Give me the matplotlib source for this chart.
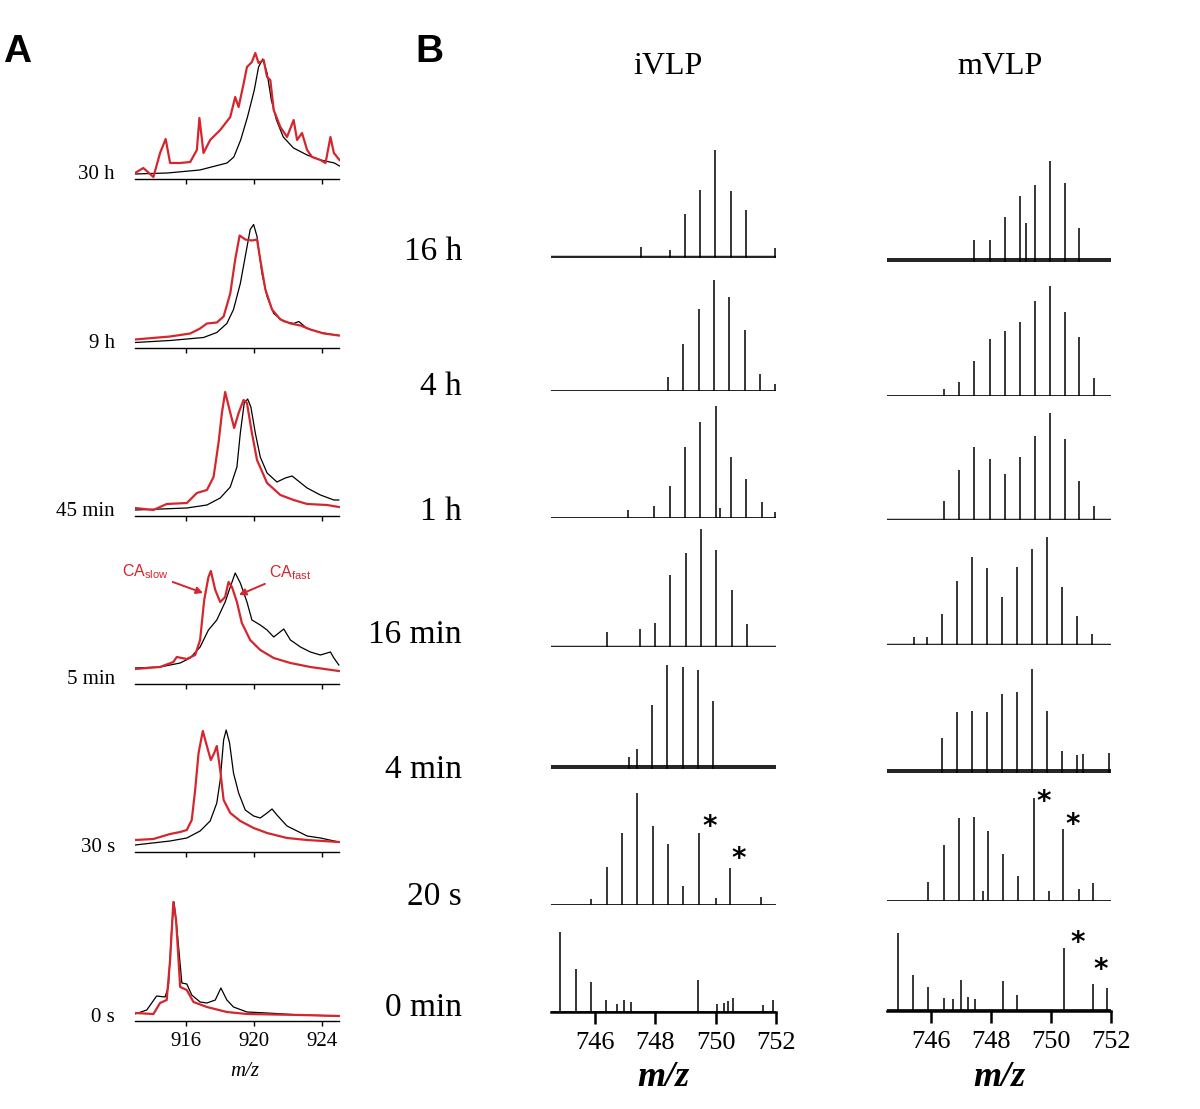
"""
Native MS time course: CA peaks (panel A) and iVLP / mVLP spectra (panel B).
"""

import matplotlib.pyplot as plt

plt.rcParams["font.family"] = ["Liberation Serif", "DejaVu Serif"]
plt.rcParams["mathtext.default"] = "regular"

FIG_W, FIG_H = 1200, 1109
RED = "#d6262d"

# ---------------- panel A data (m/z, intensity a.u.) ----------------
A_LABELS = ["30 h", "9 h", "45 min", "5 min", "30 s", "0 s"]
A_TICKS = [916, 920, 924]

black_30h_mz = [913.0, 914.9, 916.8, 918.4, 918.8, 919.2, 919.6, 920.0, 920.25, 920.5,
                920.75, 921.0, 921.3, 921.7, 922.3, 923.1, 923.9, 924.7, 925.0]
black_30h_int = [5, 6, 9, 16, 22, 39, 62, 89, 112, 120, 106, 79, 59, 42, 31, 24, 19, 16, 13]
red_30h_mz = [913.0, 913.49, 914.08, 914.47, 914.8, 915.06, 915.65, 916.24, 916.63, 916.78,
              917.02, 917.41, 918.0, 918.59, 918.88, 919.08, 919.37, 919.57, 919.86, 920.06,
              920.25, 920.55, 920.75, 920.94, 921.14, 921.53, 921.92, 922.31, 922.51, 922.8,
              923.1, 923.39, 923.88, 924.18, 924.47, 924.67, 924.86, 925.0]
red_30h_int = [6, 11, 2, 26, 40, 16, 16, 17, 29, 61, 26, 39, 49, 62, 82, 72, 95, 112, 117, 126,
               116, 119, 102, 99, 69, 52, 42, 59, 39, 46, 29, 22, 19, 16, 42, 26, 22, 19]

black_9h_mz = [913.0, 915.06, 917.02, 917.8, 918.39, 918.78, 919.18, 919.47, 919.76, 919.96,
               920.16, 920.45, 920.75, 921.14, 921.73, 922.31, 922.61, 923.1, 923.88, 924.96]
black_9h_int = [5, 7, 10, 15, 24, 38, 64, 91, 118, 123, 111, 74, 51, 34, 26, 24, 26, 19, 15, 12]
red_9h_mz = [913.0, 915.06, 916.24, 916.82, 917.22, 917.8, 918.2, 918.59, 918.88, 919.14,
             919.47, 919.86, 920.16, 920.35, 920.65, 921.04, 921.53, 922.12, 922.71, 923.29,
             924.08, 924.96]
red_9h_int = [8, 11, 14, 19, 24, 25, 31, 54, 88, 112, 108, 107, 108, 88, 58, 38, 28, 24, 22,
              18, 14, 12]

black_45m_mz = [913.0, 916.04, 917.22, 918.0, 918.59, 918.98, 919.18, 919.41, 919.61, 919.8,
                920.06, 920.35, 920.75, 921.33, 921.82, 922.22, 922.51, 923.1, 923.88, 924.67,
                924.96]
black_45m_int = [6, 8, 11, 18, 29, 49, 83, 113, 117, 109, 83, 59, 43, 34, 38, 40, 36, 28, 21,
                 16, 16]
red_45m_mz = [913.0, 914.08, 914.86, 916.04, 916.63, 917.22, 917.61, 917.9, 918.1, 918.29,
              918.55, 918.82, 919.08, 919.37, 919.57, 919.86, 920.16, 920.75, 921.53, 922.31,
              923.1, 924.27, 924.96]
red_45m_int = [8, 6, 12, 13, 23, 26, 39, 73, 103, 124, 106, 88, 103, 116, 113, 83, 56, 33, 21,
               16, 12, 11, 9]

black_5m_mz = [913.0, 914.47, 915.65, 916.24, 916.82, 917.31, 917.8, 918.29, 918.59, 918.88,
               919.18, 919.57, 919.86, 920.35, 920.75, 921.14, 921.73, 922.12, 922.71, 923.29,
               923.88, 924.47, 924.67, 924.96]
black_5m_int = [16, 17, 21, 26, 37, 54, 64, 82, 97, 111, 101, 82, 64, 59, 54, 47, 55, 44, 37,
                32, 29, 32, 26, 19]
red_5m_mz = [913.0, 914.47, 915.25, 915.45, 916.04, 916.53, 916.82, 917.06, 917.31, 917.45,
             917.71, 918.0, 918.29, 918.49, 918.69, 918.98, 919.27, 919.76, 920.35, 921.14,
             922.12, 923.29, 924.96]
red_5m_int = [15, 17, 22, 27, 25, 29, 44, 84, 107, 113, 94, 82, 87, 102, 97, 82, 61, 44, 34,
              26, 21, 17, 13]

black_30s_mz = [913.0, 915.06, 916.04, 916.82, 917.41, 917.8, 918.0, 918.2, 918.35, 918.55,
                918.78, 919.08, 919.47, 919.96, 920.35, 920.75, 921.04, 921.33, 921.92, 922.51,
                923.1, 923.88, 924.96]
black_30s_int = [7, 11, 14, 21, 31, 49, 72, 112, 122, 109, 79, 59, 42, 36, 34, 39, 43, 37, 26,
                 21, 16, 14, 10]
red_30s_mz = [913.0, 914.08, 915.06, 915.65, 916.04, 916.33, 916.53, 916.73, 916.98, 917.25,
              917.45, 917.65, 917.8, 918.0, 918.2, 918.59, 919.18, 919.96, 920.75, 921.92,
              923.1, 924.96]
red_30s_int = [12, 13, 18, 20, 22, 32, 62, 99, 121, 104, 92, 99, 106, 82, 52, 39, 31, 24, 19,
               14, 12, 10]

black_0s_mz = [913.0, 913.69, 914.27, 914.76, 914.96, 915.16, 915.29, 915.45, 915.75, 916.04,
               916.33, 916.82, 917.22, 917.71, 918.04, 918.39, 918.78, 919.57, 920.75, 922.71,
               925.0]
black_0s_int = [7, 11, 25, 24, 34, 94, 119, 94, 38, 37, 26, 19, 18, 21, 33, 21, 14, 9, 8, 6, 5]
red_0s_mz = [913.0, 914.08, 914.47, 914.86, 915.06, 915.25, 915.41, 915.65, 916.04, 916.43,
             917.22, 918.39, 919.57, 922.71, 925.0]
red_0s_int = [8, 7, 18, 21, 61, 119, 101, 34, 31, 19, 14, 9, 7, 6, 5]

# ---------------- panel B data (peak m/z, peak height a.u.) ----------------
B_LABELS = ["16 h", "4 h", "1 h", "16 min", "4 min", "20 s", "0 min"]
B_TICKS = [746, 748, 750, 752]

ivlp_16h_mz = [747.52, 748.49, 748.99, 749.5, 749.99, 750.5, 751.0, 751.98]
ivlp_16h_int = [11, 8, 44, 68, 108, 67, 48, 10]
ivlp_4h_mz = [748.42, 748.93, 749.44, 749.94, 750.46, 750.97, 751.47, 751.97]
ivlp_4h_int = [14, 47, 82, 111, 94, 61, 17, 7]
ivlp_1h_mz = [747.1, 747.97, 748.48, 748.99, 749.5, 750.0, 750.14, 750.51, 751.01, 751.52, 751.98]
ivlp_1h_int = [8, 12, 32, 71, 96, 112, 10, 61, 39, 16, 6]
ivlp_16m_mz = [746.41, 747.49, 748.01, 748.5, 749.01, 749.52, 750.02, 750.53, 751.03]
ivlp_16m_int = [15, 18, 24, 72, 94, 118, 97, 57, 23]
ivlp_4m_mz = [747.13, 747.39, 747.9, 748.4, 748.91, 749.41, 749.91]
ivlp_4m_int = [12, 20, 64, 104, 102, 99, 68]
ivlp_20s_mz = [745.86, 746.39, 746.9, 747.41, 747.92, 748.42, 748.92, 749.44, 750.0, 750.47, 751.5]
ivlp_20s_int = [6, 38, 72, 112, 79, 61, 19, 72, 7, 37, 8]
ivlp_0m_mz = [744.86, 745.38, 745.87, 746.38, 746.72, 746.97, 747.21, 749.43, 750.04, 750.27,
              750.4, 750.56, 751.57, 751.89]
ivlp_0m_int = [80, 43, 30, 12, 8, 12, 10, 32, 8, 9, 11, 14, 7, 12]

mvlp_16h_mz = [747.46, 747.98, 748.48, 748.98, 749.18, 749.47, 749.96, 750.46, 750.94]
mvlp_16h_int = [22, 22, 45, 66, 39, 77, 101, 79, 34]
mvlp_4h_mz = [746.46, 746.96, 747.46, 747.97, 748.47, 748.96, 749.46, 749.96, 750.46, 750.95,
              751.45]
mvlp_4h_int = [7, 14, 35, 57, 65, 74, 95, 110, 84, 59, 18]
mvlp_1h_mz = [746.46, 746.96, 747.46, 747.96, 748.46, 748.96, 749.46, 749.96, 750.46, 750.94,
              751.45]
mvlp_1h_int = [19, 50, 73, 61, 46, 63, 84, 107, 81, 39, 14]
mvlp_16m_mz = [745.45, 745.89, 746.39, 746.89, 747.39, 747.88, 748.38, 748.87, 749.37, 749.87,
               750.36, 750.87, 751.36]
mvlp_16m_int = [8, 8, 31, 64, 88, 77, 48, 78, 96, 108, 58, 29, 11]
mvlp_4m_mz = [746.37, 746.87, 747.37, 747.87, 748.37, 748.87, 749.37, 749.86, 750.36, 750.87,
              751.06, 751.95]
mvlp_4m_int = [35, 61, 62, 61, 79, 81, 104, 62, 22, 18, 19, 20]
mvlp_20s_mz = [745.93, 746.43, 746.93, 747.43, 747.75, 747.91, 748.41, 748.9, 749.43, 749.93,
               750.41, 750.93, 751.41]
mvlp_20s_int = [19, 56, 83, 84, 10, 70, 47, 25, 103, 10, 72, 12, 18]
mvlp_0m_mz = [744.91, 745.43, 745.93, 746.43, 746.76, 747.0, 747.25, 747.49, 748.41, 748.89,
              750.43, 751.41, 751.87]
mvlp_0m_int = [78, 36, 24, 13, 12, 31, 14, 12, 30, 16, 63, 27, 23]

# peaks marked with an asterisk (column, row label, peak m/z)
starred = [("iVLP", "20 s", 749.44), ("iVLP", "20 s", 750.47),
           ("mVLP", "20 s", 749.43), ("mVLP", "20 s", 750.41),
           ("mVLP", "0 min", 750.43), ("mVLP", "0 min", 751.41)]


fig = plt.figure(figsize=(FIG_W / 100, FIG_H / 100), dpi=100)


def add_px_axes(left, right, base, height):
    """axes placed by pixel edges, base = y pixel of the baseline"""
    return fig.add_axes([left / FIG_W, 1 - base / FIG_H,
                         (right - left) / FIG_W, height / FIG_H])


def fig_text(x, y, s, **kw):
    fig.text(x / FIG_W, 1 - y / FIG_H, s, **kw)


# ---------------- panel A ----------------
a_traces = [
    (black_30h_mz, black_30h_int, red_30h_mz, red_30h_int),
    (black_9h_mz, black_9h_int, red_9h_mz, red_9h_int),
    (black_45m_mz, black_45m_int, red_45m_mz, red_45m_int),
    (black_5m_mz, black_5m_int, red_5m_mz, red_5m_int),
    (black_30s_mz, black_30s_int, red_30s_mz, red_30s_int),
    (black_0s_mz, black_0s_int, red_0s_mz, red_0s_int),
]
a_bases = [179, 347.5, 516, 684, 852, 1021]

for i, (bx, by, rx, ry) in enumerate(a_traces):
    ax = add_px_axes(135, 339.5, a_bases[i], 135)
    ax.plot(bx, by, color="black", lw=0.9, zorder=2)
    ax.plot(rx, ry, color=RED, lw=1.6, zorder=3)
    ax.set_xlim(913, 925)
    ax.set_ylim(0, 135)
    for side in ["top", "left", "right"]:
        ax.spines[side].set_visible(False)
    ax.spines["bottom"].set_linewidth(1.0)
    ax.set_yticks([])
    ax.set_xticks(A_TICKS)
    ax.tick_params(axis="x", direction="out", length=3.8, width=1.0, pad=4,
                   labelsize=15, labelbottom=(i == len(a_traces) - 1))
    ax.patch.set_alpha(0)
    fig_text(115, a_bases[i] - 4, A_LABELS[i], ha="right", va="center", fontsize=15)

    if A_LABELS[i] == "5 min":
        ax.annotate("CA$_{slow}$", xy=(917.0, 91), xytext=(913.6, 112),
                    color=RED, fontsize=11.5, family="Liberation Sans",
                    ha="center", va="center",
                    arrowprops=dict(arrowstyle="-|>", color=RED, lw=1.4,
                                    shrinkA=1, shrinkB=0, mutation_scale=10))
        ax.annotate("CA$_{fast}$", xy=(919.1, 89), xytext=(922.1, 111),
                    color=RED, fontsize=11.5, family="Liberation Sans",
                    ha="center", va="center",
                    arrowprops=dict(arrowstyle="-|>", color=RED, lw=1.4,
                                    shrinkA=1, shrinkB=0, mutation_scale=10))

fig_text(245, 1071, "m/z", ha="center", va="center", fontsize=15, style="italic")
fig_text(3, 52, "A", ha="left", va="center", fontsize=28, fontweight="bold",
         family="Liberation Sans")

# ---------------- panel B ----------------
b_columns = {
    "iVLP": dict(
        peaks=[(ivlp_16h_mz, ivlp_16h_int), (ivlp_4h_mz, ivlp_4h_int),
               (ivlp_1h_mz, ivlp_1h_int), (ivlp_16m_mz, ivlp_16m_int),
               (ivlp_4m_mz, ivlp_4m_int), (ivlp_20s_mz, ivlp_20s_int),
               (ivlp_0m_mz, ivlp_0m_int)],
        left=551, right=776,
        bases=[258, 391, 518, 647, 769, 905, 1012],
        noise=[4.5, 2, 3, 3.5, 8, 2, 2],
        title_x=668,
    ),
    "mVLP": dict(
        peaks=[(mvlp_16h_mz, mvlp_16h_int), (mvlp_4h_mz, mvlp_4h_int),
               (mvlp_1h_mz, mvlp_1h_int), (mvlp_16m_mz, mvlp_16m_int),
               (mvlp_4m_mz, mvlp_4m_int), (mvlp_20s_mz, mvlp_20s_int),
               (mvlp_0m_mz, mvlp_0m_int)],
        left=887, right=1111,
        bases=[262, 396, 520, 645, 773, 901, 1011],
        noise=[8, 3, 3.5, 3.5, 8, 3, 4],
        title_x=1000,
    ),
}
star_offsets = [(0.36, 6), (0.3, 9), (0.34, -4), (0.3, 4), (0.47, 5), (0.25, 14)]

for name, col in b_columns.items():
    for i, (mz, inten) in enumerate(col["peaks"]):
        ax = add_px_axes(col["left"], col["right"], col["bases"][i], 125)
        ax.axhline(0, color="#262626", lw=col["noise"][i] / 1.39, zorder=1)
        ax.vlines(mz, 0, inten, color="black", lw=1.1, zorder=2)
        ax.set_xlim(744.55, 752.0)
        ax.set_ylim(0, 125)
        ax.set_yticks([])
        for side in ["top", "left", "right"]:
            ax.spines[side].set_visible(False)
        ax.patch.set_alpha(0)
        last = i == len(col["peaks"]) - 1
        if last:
            ax.spines["bottom"].set_linewidth(1.8)
            ax.set_xticks(B_TICKS)
            ax.tick_params(axis="x", direction="out", length=8.5, width=1.8, pad=6,
                           labelsize=19)
        else:
            ax.spines["bottom"].set_visible(False)
            ax.set_xticks([])

        for k, (c, row, peak) in enumerate(starred):
            if c == name and row == B_LABELS[i]:
                h = inten[mz.index(peak)]
                dx, dy = star_offsets[k]
                ax.text(peak + dx, h + dy, "*", ha="center", va="center",
                        fontsize=20, fontweight="bold", family="DejaVu Sans")

    fig_text(col["title_x"], 66, name, ha="center", va="center", fontsize=23)
    fig_text((col["left"] + col["right"]) / 2, 1078, "m/z", ha="center", va="center",
             fontsize=26, style="italic", fontweight="bold")

b_label_y = [252, 387, 512, 635, 770, 897, 1008]
for label, y in zip(B_LABELS, b_label_y):
    fig_text(462, y, label, ha="right", va="center", fontsize=24)

fig_text(415, 52, "B", ha="left", va="center", fontsize=28, fontweight="bold",
         family="Liberation Sans")

fig.savefig("out.png", dpi=100, facecolor="white")
